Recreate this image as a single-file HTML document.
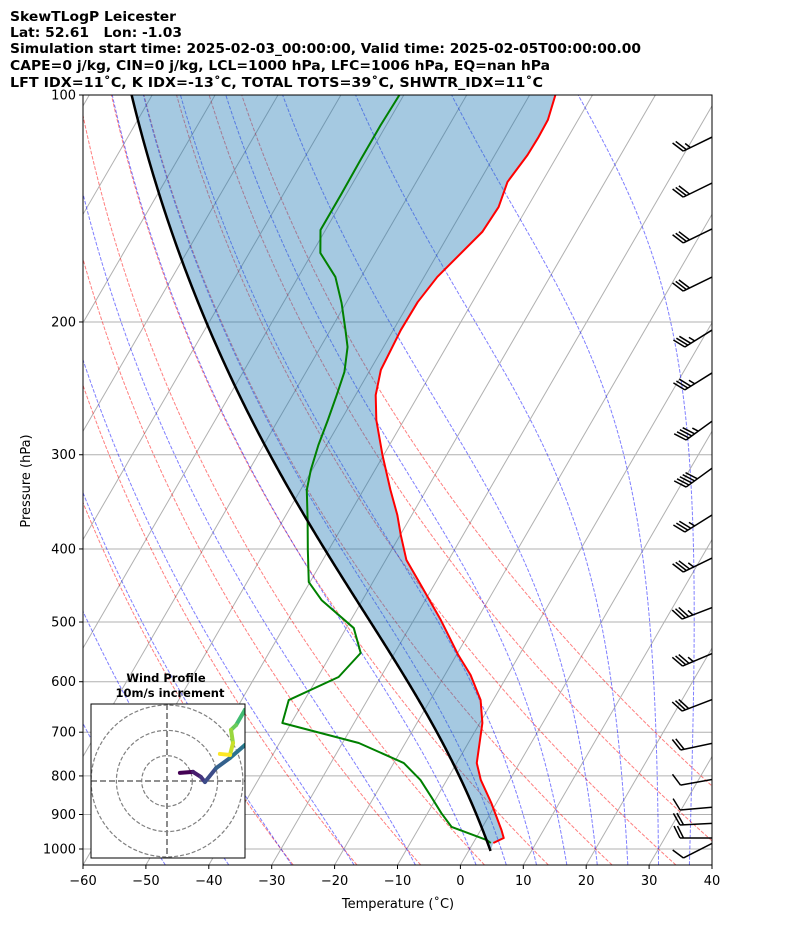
<!DOCTYPE html>
<html><head><meta charset="utf-8"><style>
html,body{margin:0;padding:0;background:#fff}
svg{display:block;font-family:"DejaVu Sans","Liberation Sans",sans-serif}
</style></head><body>
<svg id="chart" width="794" height="937" viewBox="0 0 794 937" xmlns="http://www.w3.org/2000/svg">
<defs><clipPath id="plotclip"><rect x="83" y="95" width="629" height="770"/></clipPath>
<clipPath id="hodoclip"><rect x="91" y="704" width="154" height="154"/></clipPath></defs>
<g font-weight="bold" font-size="13" fill="#000">
<text x="10" y="21" textLength="166" lengthAdjust="spacingAndGlyphs">SkewTLogP Leicester</text>
<text x="10" y="37" textLength="172" lengthAdjust="spacingAndGlyphs">Lat: 52.61&#160;&#160;&#160;Lon: -1.03</text>
<text x="10" y="53" textLength="631" lengthAdjust="spacingAndGlyphs">Simulation start time: 2025-02-03_00:00:00, Valid time: 2025-02-05T00:00:00.00</text>
<text x="10" y="70" textLength="540" lengthAdjust="spacingAndGlyphs">CAPE=0 j/kg, CIN=0 j/kg, LCL=1000 hPa, LFC=1006 hPa, EQ=nan hPa</text>
<text x="10" y="87" textLength="533" lengthAdjust="spacingAndGlyphs">LFT IDX=11˚C, K IDX=-13˚C, TOTAL TOTS=39˚C, SHWTR_IDX=11˚C</text>
</g>
<g id="plot" clip-path="url(#plotclip)"></g>
<g id="axes"></g>
<g id="hodo"></g>
</svg>
<script>
// ---- data ----
const tempP=[100,107.9,113.7,120.1,130.4,140.8,151.9,174.3,188.2,205.0,231.5,250.0,269.8,300.2,334.1,360.6,383.4,413.8,446.6,497.0,553.0,587.8,634.5,680.6,769.1,809.9,869.0,943.6,967.0,981.8];
const tempT=[-55.9,-54.8,-54.7,-54.8,-55.5,-54.6,-54.9,-57.9,-58.7,-58.8,-58.3,-56.8,-54.4,-50.2,-45.7,-42.3,-39.9,-36.7,-32.1,-25.7,-19.7,-15.9,-12.0,-9.6,-6.8,-4.6,-0.8,3.3,4.4,3.2];
const dewP=[100,109.6,121.9,135.7,151.0,162.0,174.3,188.8,205.0,215.9,233.0,250.0,269.8,291.2,314.4,334.1,366.2,401.3,442.5,467.6,509.3,549.6,591.4,634.5,680.6,723.5,769.1,809.9,853.1,896.4,935.0,973.0,981.8];
const dewT=[-80.7,-80.9,-80.9,-80.8,-80.8,-78.7,-74.1,-70.7,-67.6,-65.7,-63.9,-63.0,-62.1,-61.3,-60.2,-59.0,-56.1,-53.3,-50.2,-46.5,-38.8,-35.4,-36.7,-42.5,-41.4,-27.4,-18.4,-14.2,-10.9,-7.8,-4.9,1.9,2.8];
const parcelStartP=1006, parcelStartT=3.5;
const pTicks=[100,200,300,400,500,600,700,800,900,1000];
const tTicks=[-60,-50,-40,-30,-20,-10,0,10,20,30,40];
const dryT0=[-30,-20,-10,0,10,20,30,40,50];
const moistT0=[-50,-40,-30,-20,-10,0,5,10,15,20,25,30,35];
const windP=[118.7,136.6,157.1,182.0,215.9,246.1,286.8,331.1,379.8,429.2,495.5,571.9,656.2,739.1,822.7,887.8,929.4,967,1027.8];
const windKt=[25,30,30,30,35,35,45,50,35,35,35,35,30,20,10,10,20,20,10];
const windDir=[244,244,244,244,238,238,234,234,238,244,249,247,249,258,260,265,267,270,243];
const hodoU=[5.1,10.3,13.4,15.0,19.4,24.9,30.8,36.8,37.5,30.8,27.3,25.3,26.1,24.9,20.9];
const hodoV=[3.2,3.6,1.6,-0.4,5.1,9.1,14.2,18.2,30.0,28.1,22.1,20.2,15.0,10.3,10.7];

// ---- axes functions ----
const NS="http://www.w3.org/2000/svg";
const X0=83,XR=712,YT=95,YB=865,DEC=754,PXC=6.29,SK=0.58;
function yOf(p){return YT+DEC*Math.log10(p/100);}
function xOf(T,p){return X0+(T+60)*PXC+(YB-yOf(p))*SK;}
function mk(tag,attrs,parent){const e=document.createElementNS(NS,tag);for(const k in attrs)e.setAttribute(k,attrs[k]);parent.appendChild(e);return e;}
const plot=document.getElementById('plot'),axes=document.getElementById('axes'),hodo=document.getElementById('hodo');
function pathFrom(ps,ts){return ps.map((p,i)=>(i?'L':'M')+xOf(ts[i],p).toFixed(2)+','+yOf(p).toFixed(2)).join('');}
// moist adiabat
const Rd=287.04,Cp=1005.7,Lv=2.501e6,EPS=0.622;
function dTdp(p,T){const Tc=T-273.15;const es=6.112*Math.exp(17.67*Tc/(Tc+243.5));const rs=EPS*es/(p-es);
 return (Rd*T+Lv*rs)/(p*(Cp+Lv*Lv*rs*EPS/(Rd*T*T)));}
function moist(p0,T0c,pEnd){const pts=[];let p=p0,T=T0c+273.15;const h=(pEnd<p0?-2:2);pts.push([p,T-273.15]);
 while((h<0&&p+h>=pEnd)||(h>0&&p+h<=pEnd)){const k1=dTdp(p,T),k2=dTdp(p+h/2,T+h/2*k1),k3=dTdp(p+h/2,T+h/2*k2),k4=dTdp(p+h,T+h*k3);
 T+=h/6*(k1+2*k2+2*k3+k4);p+=h;pts.push([p,T-273.15]);}return pts;}
function moistFull(t0){const up=moist(1000,t0,100),dn=moist(1000,t0,1050);return dn.reverse().concat(up.slice(1));}

// grid: horizontal
pTicks.forEach(p=>{const l=mk('line',{x1:X0,x2:XR,y1:yOf(p),y2:yOf(p),stroke:'#b0b0b0','stroke-width':1},plot);

});
// isotherms
for(let T=-200;T<=40;T+=10){const l=mk('line',{x1:xOf(T,1050),y1:yOf(1050),x2:xOf(T,100),y2:yOf(100),stroke:'#b0b0b0','stroke-width':1},plot);

}
// dry adiabats
const pl=[];for(let p=1050;p>=100;p-=5)pl.push(p);
dryT0.forEach(t0=>{const th=(t0+273.15);const ts=pl.map(p=>th*Math.pow(p/1000,0.2857)-273.15);
const e=mk('path',{d:pathFrom(pl,ts),fill:'none',stroke:'#ff0000','stroke-opacity':0.5,'stroke-width':1,'stroke-dasharray':'3.7,1.6'},plot);

});
// moist adiabats
moistT0.forEach(t0=>{const pts=moistFull(t0);
const e=mk('path',{d:pathFrom(pts.map(a=>a[0]),pts.map(a=>a[1])),fill:'none',stroke:'#0000ff','stroke-opacity':0.5,'stroke-width':1,'stroke-dasharray':'3.7,1.6'},plot);

});
// parcel
const parcel=moist(parcelStartP,parcelStartT,100);
const parP=parcel.map(a=>a[0]),parT=parcel.map(a=>a[1]);
// fill: temperature top->bottom, then parcel bottom->top
let fd=pathFrom(tempP,tempT);
fd+=parP.map((p,i)=>'L'+xOf(parT[i],p).toFixed(2)+','+yOf(p).toFixed(2)).join('')+'Z';
const fill=mk('path',{d:fd,fill:'#1f77b4','fill-opacity':0.4,stroke:'none'},plot);


const tl=mk('path',{d:pathFrom(tempP,tempT),fill:'none',stroke:'#ff0000','stroke-width':2,'stroke-linejoin':'round'},plot);


const dl=mk('path',{d:pathFrom(dewP,dewT),fill:'none',stroke:'#008000','stroke-width':2,'stroke-linejoin':'round'},plot);


const pline=mk('path',{d:pathFrom(parP,parT),fill:'none',stroke:'#000','stroke-width':2.5},plot);


// barbs: origin at right edge, staff toward wind source, feathers at far end
windP.forEach((p,i)=>{const y=yOf(p);const d=windDir[i]*Math.PI/180;
 const L=32;
 const tx=Math.sin(d),ty=-Math.cos(d); // origin -> tip (screen)
 const ox=712,oy=y-L*ty; // origin
 const lx=ox+L*tx,ly=oy+L*ty; // tip (feather end)
 const sx=-tx,sy=-ty; // tip -> origin
 const px=sy,py=-sx; // perpendicular
 const g=mk('g',{stroke:'#000','stroke-width':1.5,fill:'none','stroke-linecap':'butt'},plot);
 
 
 mk('line',{x1:lx,y1:ly,x2:ox,y2:oy},g);
 const n=Math.floor(windKt[i]/10),half=(windKt[i]%10)>=5;
 for(let k=0;k<n;k++){const bx=lx+sx*3.5*k,by=ly+sy*3.5*k;
  mk('line',{x1:bx,y1:by,x2:bx+px*12-sx*6,y2:by+py*12-sy*6},g);}
 if(half){const bx=lx+sx*3.5*(n+0.3),by=ly+sy*3.5*(n+0.3);mk('line',{x1:bx,y1:by,x2:bx+px*6-sx*3,y2:by+py*6-sy*3},g);}
});
// frame
const fr=mk('rect',{x:X0,y:YT,width:XR-X0,height:YB-YT,fill:'none',stroke:'#000','stroke-width':1},axes);


pTicks.forEach(p=>{mk('line',{x1:X0-4,x2:X0,y1:yOf(p),y2:yOf(p),stroke:'#000'},axes);
const t=mk('text',{x:X0-7,y:yOf(p)+4.5,'text-anchor':'end','font-size':13},axes);t.textContent=p;

});
tTicks.forEach(T=>{const x=X0+(T+60)*PXC;mk('line',{x1:x,x2:x,y1:YB,y2:YB+4,stroke:'#000'},axes);
const t=mk('text',{x:x,y:YB+20,'text-anchor':'middle','font-size':13},axes);t.textContent=(T<0?'\u2212'+(-T):T);

});
const xt=mk('text',{x:398,y:908,'text-anchor':'middle','font-size':13},axes);xt.textContent='Temperature (˚C)';


const yt=mk('text',{x:0,y:0,'text-anchor':'middle','font-size':13,transform:'translate(30,481) rotate(-90)'},axes);yt.textContent='Pressure (hPa)';


// hodograph
const hb=mk('rect',{x:91,y:704,width:154,height:154,fill:'#fff',stroke:'none'},hodo);


const HC=[167,781],HS=2.53;
const hg=mk('g',{'clip-path':'url(#hodoclip)'},hodo);
[10,20,30].forEach(r=>{const c=mk('circle',{cx:HC[0],cy:HC[1],r:r*HS,fill:'none',stroke:'#808080','stroke-width':1.2,'stroke-dasharray':'4,2'},hg);

});
mk('line',{x1:91,x2:245,y1:HC[1],y2:HC[1],stroke:'#808080','stroke-width':1.8,'stroke-dasharray':'6,3'},hg);
mk('line',{x1:HC[0],x2:HC[0],y1:704,y2:858,stroke:'#808080','stroke-width':1.8,'stroke-dasharray':'6,3'},hg);
const vir=[[68,1,84],[72,40,120],[62,74,137],[49,104,142],[38,130,142],[31,158,137],[53,183,121],[109,205,89],[180,222,44],[253,231,37]];
function vc(f){const s=f*(vir.length-1),i=Math.min(Math.floor(s),vir.length-2),t=s-i;return 'rgb('+vir[i].map((c,k)=>Math.round(c+(vir[i+1][k]-c)*t)).join(',')+')';}
for(let i=0;i<hodoU.length-1;i++){const s=mk('line',{x1:HC[0]+hodoU[i]*HS,y1:HC[1]-hodoV[i]*HS,x2:HC[0]+hodoU[i+1]*HS,y2:HC[1]-hodoV[i+1]*HS,stroke:vc(i/(hodoU.length-2)),'stroke-width':4,'stroke-linecap':'round'},hg);

}
const hf=mk('rect',{x:91,y:704,width:154,height:154,fill:'none',stroke:'#000','stroke-width':1},hodo);


const h1=mk('text',{x:166,y:682,'text-anchor':'middle','font-size':11.5,'font-weight':'bold'},hodo);h1.textContent='Wind Profile';


const h2=mk('text',{x:170,y:697,'text-anchor':'middle','font-size':11.5,'font-weight':'bold'},hodo);h2.textContent='10m/s increment';


</script>
</body></html>
